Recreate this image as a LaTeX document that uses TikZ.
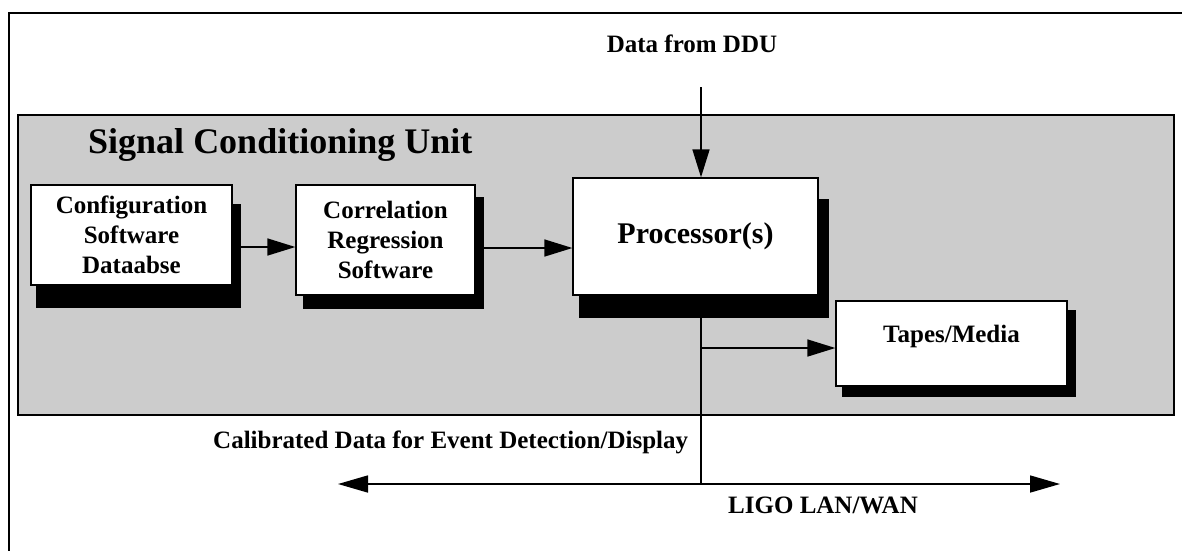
\documentclass[tikz,border=0pt]{standalone}
\usepackage{fontspec}
\setmainfont{Liberation Serif}
\usetikzlibrary{arrows.meta}
\pgfdeclarelayer{bg}
\pgfsetlayers{bg,main}
\begin{document}
\begin{tikzpicture}[x=1pt,y=-1pt,
  box/.style={draw, line width=1.3pt, fill=white, inner sep=0pt, align=center,
    font=\bfseries\fontsize{25}{30}\selectfont},
  lbl/.style={inner sep=0pt, font=\bfseries\fontsize{25}{30}\selectfont},
  shade/.style={fill=black},
  conn/.style={line width=1.6pt, -{Triangle[length=28pt,width=17pt]}},
  plain/.style={line width=1.6pt},
  frame/.style={line width=1.5pt}]
\useasboundingbox (0,0) rectangle (1182,550);
\begin{pgfonlayer}{bg}
  \fill[white] (0,0) rectangle (1182,550);
  \draw[line width=1.2pt, fill=black!20] (18,115) rectangle (1174,415);
\end{pgfonlayer}
\draw[frame] (9,552) -- (9,13) -- (1184,13);
\node[lbl, anchor=base west, font=\bfseries\fontsize{36}{40}\selectfont] (scu) at (88,153) {Signal Conditioning Unit};
% boxes
\node[box, minimum width=201pt, minimum height=100pt] (cfg) at (131.5,235) {Configuration\\Software\\Dataabse};
\node[box, minimum width=179pt, minimum height=110pt] (cor) at (385.5,240) {Correlation\\Regression\\Software};
\node[box, minimum width=245pt, minimum height=117pt, font=\bfseries\fontsize{30}{34}\selectfont] (proc) at (695.5,236.5) {Processor(s)};
\node[box, minimum width=231pt, minimum height=85pt, text height=17pt, text depth=20pt] (tapes) at (951.5,343.5) {Tapes/Media};
% shadows
\begin{pgfonlayer}{bg}
  \fill[shade] ([shift={(6,20)}]cfg.north west) rectangle ([shift={(8,22)}]cfg.south east);
  \fill[shade] ([shift={(8,13)}]cor.north west) rectangle ([shift={(8,13)}]cor.south east);
  \fill[shade] ([shift={(7,22)}]proc.north west) rectangle ([shift={(10,22)}]proc.south east);
  \fill[shade] ([shift={(7,10)}]tapes.north west) rectangle ([shift={(8,10)}]tapes.south east);
\end{pgfonlayer}
% labels
\node[lbl, anchor=base] (ddu) at (692,52) {Data from DDU};
\node[lbl, anchor=base west] (cal) at (213,448) {Calibrated Data for Event Detection/Display};
\node[lbl, anchor=base] (lan) at (823,513) {LIGO LAN/WAN};
% coordinates
\coordinate (dtop) at (701,87);
\coordinate (lanL) at (338,484);
\coordinate (lanR) at (1060,484);
\coordinate (lanM) at (701,484);
\coordinate (tap) at (701,348);
\coordinate (a1) at (232,247);
\coordinate (a2) at (475,248);
% connectors
\draw[conn] (dtop) -- (dtop |- proc.north);
\draw[conn] (a1 -| cfg.east) -- (a1 -| cor.west);
\draw[conn] (a2 -| cor.east) -- (a2 -| proc.west);
\draw[plain] (dtop |- proc.south) -- (lanM);
\draw[conn] (tap) -- (tap -| tapes.west);
\draw[line width=1.6pt, {Triangle[length=30pt,width=17pt]}-{Triangle[length=30pt,width=17pt]}] (lanL) -- (lanR);
\end{tikzpicture}
\end{document}
